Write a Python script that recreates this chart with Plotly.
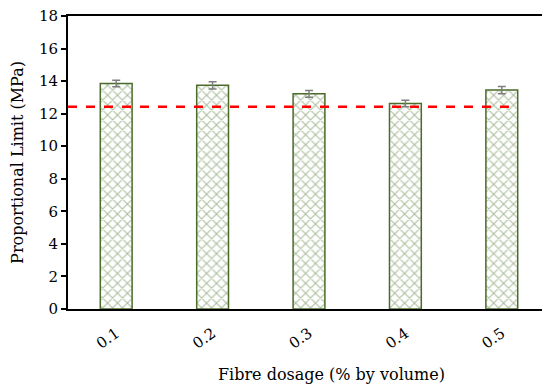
import plotly.graph_objects as go

categories = ["0.1", "0.2", "0.3", "0.4", "0.5"]
prop_limit = [13.86, 13.74, 13.22, 12.63, 13.45]
errors = [0.2, 0.22, 0.21, 0.2, 0.22]
reference_value = 12.42
y_ticks = [0, 2, 4, 6, 8, 10, 12, 14, 16, 18]

FONT = "DejaVu Serif"

fig = go.Figure()
fig.add_trace(go.Bar(
    x=categories, y=prop_limit,
    width=0.33,
    marker=dict(
        color="white",
        line=dict(color="#4a6b2a", width=1.5),
        pattern=dict(shape="x", fgcolor="#5a7d3a", bgcolor="white", size=7, solidity=0.3),
    ),
    error_y=dict(type="data", array=errors, visible=True, color="#7f7f7f", thickness=1.5, width=4),
    showlegend=False,
))

fig.add_shape(type="line", xref="x", yref="y",
              x0=-0.5, x1=4.13, y0=reference_value, y1=reference_value,
              line=dict(color="#ff0000", width=2.5, dash="dash"))

fig.add_annotation(text="Fibre dosage (% by volume)", xref="paper", yref="paper",
                   x=0.547, y=0, yshift=-65, xanchor="center", yanchor="middle",
                   showarrow=False, font=dict(size=16))

fig.update_layout(
    width=550, height=388,
    margin=dict(l=60, r=8, t=8, b=87, autoexpand=False),
    paper_bgcolor="white", plot_bgcolor="white",
    font=dict(family=FONT, size=15, color="black"),
)
fig.update_xaxes(
    type="category", range=[-0.5, 4.5], automargin=False,
    showline=True, linewidth=2, linecolor="black", mirror=True,
    ticks="", tickangle=-35, tickfont=dict(size=15), ticklabelstandoff=8,
    ticklabeloverflow="allow",
)
fig.update_yaxes(
    range=[0, 18], tickvals=y_ticks, automargin=False,
    showline=True, linewidth=2, linecolor="black", mirror=True,
    showgrid=False, zeroline=False,
    ticks="outside", ticklen=5, tickwidth=1.5, tickcolor="black",
    tickfont=dict(size=15), ticklabeloverflow="allow",
    title=dict(text="Proportional Limit (MPa)", font=dict(size=16), standoff=14),
)

fig.write_html("out.html")
